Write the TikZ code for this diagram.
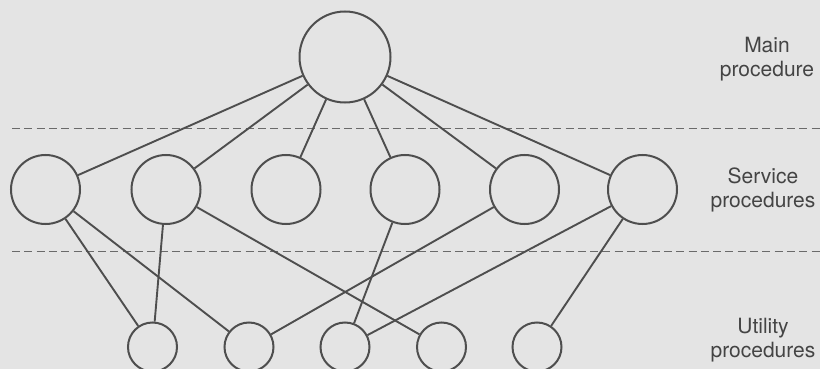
\documentclass[tikz,border=0pt]{standalone}
\usepackage{fontspec}
\setmainfont{TeX Gyre Heros}
\usepackage{xcolor}
\usetikzlibrary{positioning}
\definecolor{paper}{HTML}{E4E4E4}
\definecolor{ink}{HTML}{4E4E4E}
\definecolor{dashgray}{HTML}{6A6A6A}
\definecolor{labelgray}{HTML}{444444}

\begin{document}
\begin{tikzpicture}[x=1pt,y=-1pt,
  proc/.style={circle,draw=ink,line width=2pt,inner sep=0pt},
  mainproc/.style={proc,minimum size=91pt},
  servproc/.style={proc,minimum size=69pt},
  utilproc/.style={proc,minimum size=49pt},
  link/.style={draw=ink,line width=1.9pt},
  level/.style={draw=dashgray,line width=1pt,dash pattern=on 8pt off 4.3pt},
  tier/.style={text=labelgray,align=center,font=\fontsize{21}{24}\selectfont}]
\fill[paper] (0,0) rectangle (820,369);
\useasboundingbox (0,0) rectangle (820,369);
% levels
\coordinate (l1a) at (12,128);
\coordinate (l1b) at (820,128);
\coordinate (l2a) at (12,251);
\coordinate (l2b) at (820,251);
\draw[level] (l1a) -- (l1b);
\draw[level] (l2a) -- (l2b);
% procedures
\node[mainproc] (M) at (345,57) {};
\foreach \i/\x in {1/45.5,2/166,3/286,4/405,5/524.5,6/642.5}
  \node[servproc] (S\i) at (\x,189.5) {};
\foreach \i/\x in {1/152.5,2/249,3/345,4/441.5,5/537}
  \node[utilproc] (U\i) at (\x,347) {};
% calls
\foreach \i in {1,...,6}
  \draw[link] (M) -- (S\i);
\draw[link] (S1) -- (U1);
\draw[link] (S1) -- (U2);
\draw[link] (S2) -- (U1);
\draw[link] (S2) -- (U4);
\draw[link] (S4) -- (U3);
\draw[link] (S5) -- (U2);
\draw[link] (S6) -- (U3);
\draw[link] (S6) -- (U5);
% tier labels
\node[tier] (tmain) at (767,59) {Main\\procedure};
\node[tier] (tserv) at (763,189.5) {Service\\procedures};
\node[tier] (tutil) at (763,340) {Utility\\procedures};
\end{tikzpicture}
\end{document}
